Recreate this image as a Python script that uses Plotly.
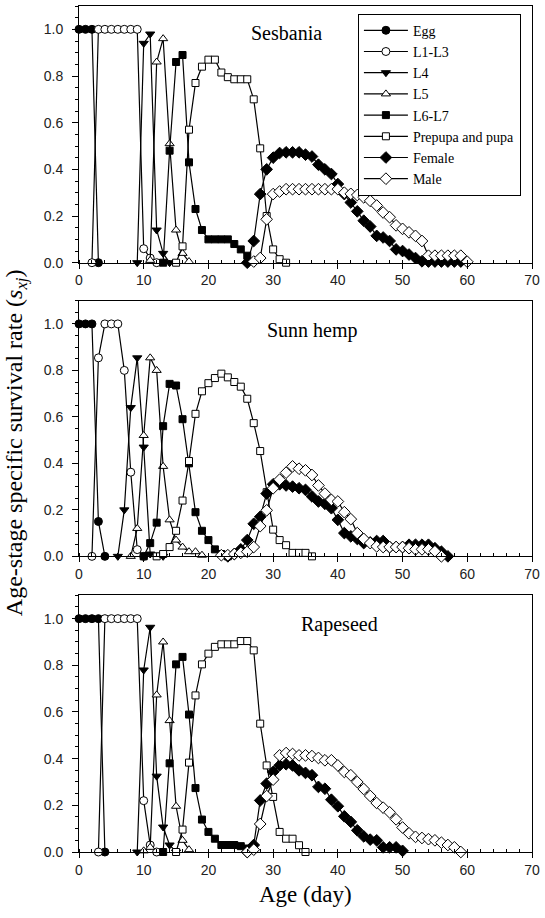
import plotly.graph_objects as go

# ---------------- data: survival rate per age (day) ----------------
# each series starts at the given day and runs on consecutive days

# Sesbania
ses_egg_start = 0
ses_egg = [1, 1, 1, 0]
ses_l13_start = 2
ses_l13 = [0, 1, 1, 1, 1, 1, 1, 1, 0.06, 0.02, 0]
ses_l4_start = 9
ses_l4 = [0, 0.94, 0.98, 0.14, 0.04, 0]
ses_l5_start = 11
ses_l5 = [0.01, 0.86, 0.96, 0.51, 0.14, 0.04, 0.005]
ses_l67_start = 13
ses_l67 = [0, 0.48, 0.86, 0.89, 0.43, 0.23, 0.14, 0.10, 0.10, 0.10, 0.10, 0.08, 0.057, 0.03]
ses_pupa_start = 15
ses_pupa = [0, 0.07, 0.57, 0.77, 0.84, 0.87, 0.87, 0.815, 0.795, 0.786, 0.786, 0.786,
            0.70, 0.49, 0.20, 0.057, 0.015, 0]
ses_female_start = 26
ses_female = [0, 0.093, 0.294, 0.40, 0.45, 0.47, 0.473, 0.473, 0.473, 0.463, 0.455, 0.42,
              0.40, 0.38, 0.337, 0.294, 0.258, 0.22, 0.18, 0.155, 0.115, 0.108, 0.093, 0.057,
              0.05, 0.035, 0.02, 0.006, 0.005, 0.005, 0.005, 0.005, 0.005, 0.005]
ses_male_start = 27
ses_male = [0.005, 0.02, 0.186, 0.294, 0.305, 0.315, 0.315, 0.315, 0.315, 0.315, 0.315,
            0.315, 0.315, 0.315, 0.30, 0.295, 0.29, 0.28, 0.265, 0.245, 0.215, 0.195, 0.16,
            0.145, 0.13, 0.115, 0.093, 0.03, 0.03, 0.03, 0.03, 0.03, 0.03, 0.004]

# Sunn hemp
sun_egg_start = 0
sun_egg = [1, 1, 1, 0.15, 0]
sun_l13_start = 2
sun_l13 = [0, 0.854, 1, 1, 1, 0.80, 0.362, 0.029, 0]
sun_l4_start = 6
sun_l4 = [0, 0.20, 0.64, 0.854, 0.47, 0.01, 0.005, 0]
sun_l5_start = 8
sun_l5 = [0, 0.12, 0.52, 0.854, 0.80, 0.387, 0.157, 0.07, 0.04, 0.02, 0.02, 0.005]
sun_l67_start = 10
sun_l67 = [0, 0.057, 0.145, 0.56, 0.742, 0.735, 0.59, 0.40, 0.19, 0.11, 0.07, 0.03, 0.01, 0]
sun_pupa_start = 12
sun_pupa = [0, 0.01, 0.04, 0.11, 0.24, 0.41, 0.613, 0.71, 0.745, 0.767, 0.786, 0.77, 0.75,
            0.73, 0.678, 0.573, 0.453, 0.276, 0.115, 0.07, 0.048, 0.015, 0.015, 0.015, 0]
sun_female_start = 23
sun_female = [0, 0.01, 0.03, 0.07, 0.14, 0.17, 0.27, 0.31, 0.31, 0.305, 0.30, 0.293, 0.286,
              0.258, 0.236, 0.226, 0.207, 0.157, 0.10, 0.086, 0.075, 0.057, 0.06, 0.066,
              0.066, 0.04, 0.04, 0.04, 0.05, 0.05, 0.05, 0.05, 0.035, 0.02, 0]
sun_male_start = 22
sun_male = [0.005, 0.005, 0.01, 0.015, 0.02, 0.04, 0.13, 0.198, 0.293, 0.33, 0.36, 0.387,
            0.377, 0.37, 0.35, 0.305, 0.27, 0.243, 0.236, 0.19, 0.16, 0.10, 0.075, 0.057,
            0.043, 0.04, 0.04, 0.04, 0.04, 0.035, 0.03, 0.03, 0.03, 0.022, 0]

# Rapeseed
rap_egg_start = 0
rap_egg = [1, 1, 1, 1, 0]
rap_l13_start = 3
rap_l13 = [0, 1, 1, 1, 1, 1, 1, 0.22, 0.03, 0]
rap_l4_start = 9
rap_l4 = [0, 0.78, 0.963, 0.325, 0.107, 0.03, 0]
rap_l5_start = 10
rap_l5 = [0.005, 0.02, 0.673, 0.90, 0.563, 0.196, 0.05, 0.01]
rap_l67_start = 13
rap_l67 = [0, 0.38, 0.804, 0.836, 0.589, 0.274, 0.139, 0.086, 0.057, 0.03, 0.03, 0.03,
           0.025, 0.015]
rap_pupa_start = 15
rap_pupa = [0, 0.096, 0.383, 0.671, 0.804, 0.85, 0.879, 0.89, 0.89, 0.89, 0.904, 0.904,
            0.864, 0.55, 0.371, 0.236, 0.086, 0.057, 0.057, 0.029, 0]
rap_female_start = 26
rap_female = [0, 0.03, 0.221, 0.293, 0.343, 0.371, 0.376, 0.371, 0.35, 0.339, 0.329, 0.279,
              0.271, 0.224, 0.196, 0.153, 0.129, 0.093, 0.067, 0.053, 0.05, 0.02, 0.02,
              0.02, 0.005]
rap_male_start = 26
rap_male = [0, 0.01, 0.12, 0.24, 0.31, 0.414, 0.424, 0.42, 0.414, 0.414, 0.411, 0.403,
            0.393, 0.393, 0.371, 0.343, 0.329, 0.30, 0.27, 0.24, 0.21, 0.19, 0.17, 0.14,
            0.105, 0.08, 0.065, 0.06, 0.055, 0.05, 0.04, 0.03, 0.02, 0]

stage_names = ["Egg", "L1-L3", "L4", "L5", "L6-L7", "Prepupa and pupa", "Female", "Male"]
host_names = ["Sesbania", "Sunn hemp", "Rapeseed"]

panels = [
    [(ses_egg_start, ses_egg), (ses_l13_start, ses_l13), (ses_l4_start, ses_l4),
     (ses_l5_start, ses_l5), (ses_l67_start, ses_l67), (ses_pupa_start, ses_pupa),
     (ses_female_start, ses_female), (ses_male_start, ses_male)],
    [(sun_egg_start, sun_egg), (sun_l13_start, sun_l13), (sun_l4_start, sun_l4),
     (sun_l5_start, sun_l5), (sun_l67_start, sun_l67), (sun_pupa_start, sun_pupa),
     (sun_female_start, sun_female), (sun_male_start, sun_male)],
    [(rap_egg_start, rap_egg), (rap_l13_start, rap_l13), (rap_l4_start, rap_l4),
     (rap_l5_start, rap_l5), (rap_l67_start, rap_l67), (rap_pupa_start, rap_pupa),
     (rap_female_start, rap_female), (rap_male_start, rap_male)],
]

# ---------------- marker styles per stage ----------------
stage_markers = [
    dict(symbol="circle", size=8, color="black", line=dict(color="black", width=1)),
    dict(symbol="circle", size=8, color="white", line=dict(color="black", width=1)),
    dict(symbol="triangle-down", size=8, color="black", line=dict(color="black", width=1)),
    dict(symbol="triangle-up", size=8, color="white", line=dict(color="black", width=1)),
    dict(symbol="square", size=7, color="black", line=dict(color="black", width=1)),
    dict(symbol="square", size=7, color="white", line=dict(color="black", width=1)),
    dict(symbol="diamond", size=9, color="black", line=dict(color="black", width=1)),
    dict(symbol="diamond", size=9, color="white", line=dict(color="black", width=1)),
]

SERIF = "Liberation Serif, Times New Roman, serif"
SANS = "Liberation Sans, Arial, sans-serif"

# plot-area geometry (px)
W, H = 545, 918
M_L, M_R, M_T, M_B = 79, 8, 5, 66
plot_w = W - M_L - M_R
plot_h = H - M_T - M_B
panel_px = [(5, 262), (300, 556), (595, 852)]  # top, bottom of each panel


def to_paper_y(py):
    return (H - M_B - py) / plot_h


fig = go.Figure()

for p, series in enumerate(panels):
    ax = "" if p == 0 else str(p + 1)
    for s, (start, vals) in enumerate(series):
        ages = list(range(start, start + len(vals)))
        fig.add_trace(go.Scatter(
            x=ages, y=vals, mode="lines+markers",
            name=stage_names[s],
            legendgroup=stage_names[s],
            showlegend=(p == 0),
            line=dict(color="black", width=1.2),
            marker=stage_markers[s],
            cliponaxis=False,
            xaxis="x" + ax, yaxis="y" + ax,
        ))

axis_common = dict(
    showline=True, linecolor="black", linewidth=1, mirror=True,
    showgrid=False, zeroline=False, tickcolor="black",
    tickfont=dict(family=SANS, size=14, color="#222"),
)

layout = dict(
    width=W, height=H,
    margin=dict(l=M_L, r=M_R, t=M_T, b=M_B),
    paper_bgcolor="white", plot_bgcolor="white",
    showlegend=True,
    legend=dict(
        x=(361 - M_L) / plot_w, y=to_paper_y(12.7),
        xanchor="left", yanchor="top",
        bgcolor="white", bordercolor="black", borderwidth=1,
        font=dict(family=SERIF, size=14, color="black"),
        itemwidth=44, tracegroupgap=0,
    ),
)

for p in range(3):
    ax = "" if p == 0 else str(p + 1)
    top, bot = panel_px[p]
    layout["xaxis" + ax] = dict(
        axis_common, domain=[0, 1], anchor="y" + ax,
        range=[0, 70], tick0=0, dtick=10, ticks="outside", ticklen=5,
        minor=dict(dtick=2, ticks="inside", ticklen=3, tickcolor="black", showgrid=False),
    )
    layout["yaxis" + ax] = dict(
        axis_common, domain=[to_paper_y(bot), to_paper_y(top)], anchor="x" + ax,
        range=[0, 1.1], tick0=0, dtick=0.2, tickformat=".1f",
        ticks="outside", ticklen=6, ticklabelstandoff=6,
        minor=dict(dtick=0.05, ticks="outside", ticklen=3, tickcolor="black", showgrid=False),
    )

fig.update_layout(**layout)

# host-plant labels inside each panel
host_pos = [(32.0, 0.983), (36.1, 0.971), (40.2, 0.974)]
for p, name in enumerate(host_names):
    ax = "" if p == 0 else str(p + 1)
    fig.add_annotation(
        x=host_pos[p][0], y=host_pos[p][1], xref="x" + ax, yref="y" + ax,
        text=name, showarrow=False, xanchor="center", yanchor="middle",
        font=dict(family=SERIF, size=20, color="black"),
    )

# shared axis titles
fig.add_annotation(
    x=(16 - M_L) / plot_w, y=to_paper_y(442), xref="paper", yref="paper",
    text="Age-stage specific survival rate (<i>s</i><sub><i>xj</i></sub>)",
    textangle=-90, showarrow=False, xanchor="center", yanchor="middle",
    font=dict(family=SERIF, size=24, color="black"),
)
fig.add_annotation(
    x=0.5, y=to_paper_y(895), xref="paper", yref="paper",
    text="Age (day)", showarrow=False, xanchor="center", yanchor="middle",
    font=dict(family=SERIF, size=23, color="black"),
)

fig.write_html("out.html")
